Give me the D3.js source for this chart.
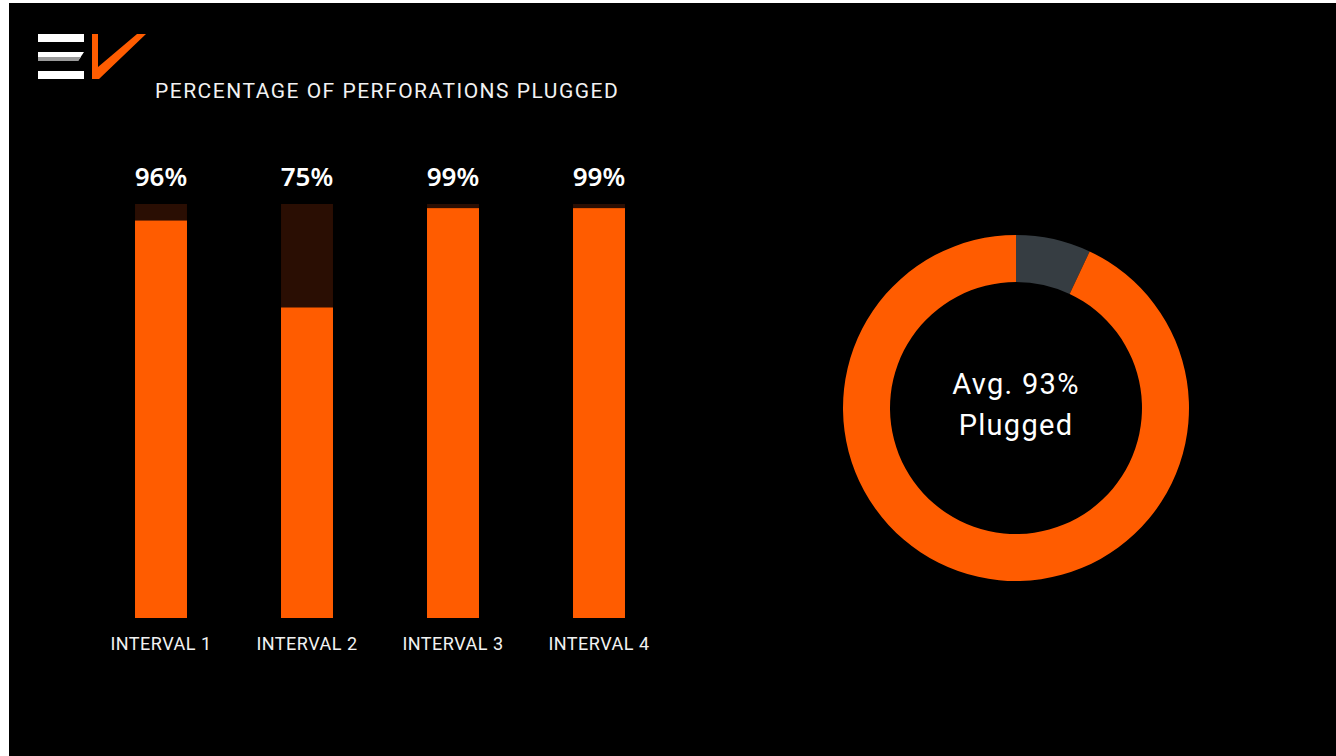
<!DOCTYPE html>
<html>
<head>
<meta charset="utf-8">
<script src="https://cdn.jsdelivr.net/npm/d3@7"></script>
<style>
  html, body { margin: 0; padding: 0; background: #ffffff; }
  svg { display: block; }
</style>
</head>
<body>
<div id="chart"></div>
<script>
// data
const intervals = ['INTERVAL 1', 'INTERVAL 2', 'INTERVAL 3', 'INTERVAL 4']
const plugged = [96, 75, 99, 99]
const avgParts = [93, 7]            // plugged / not plugged
const avgLabel = ['Avg. 93%', 'Plugged']
const title = 'PERCENTAGE OF PERFORATIONS PLUGGED'

const W = 1336, H = 756
const orange = '#ff5c00'
const barBack = '#2a0e03'
const grey = '#363d42'

const svg = d3.select('#chart').append('svg')
    .attr('width', W)
    .attr('height', H)

// black panel
svg.append('rect')
    .attr('x', 9).attr('y', 3)
    .attr('width', W - 9).attr('height', H - 3)
    .attr('fill', '#000')

// logo
let logo = svg.append('g')
logo.append('rect').attr('x', 38).attr('y', 34).attr('width', 46).attr('height', 8).attr('fill', '#fff')
logo.append('path').attr('d', 'M38,52 L84,52 L78,61 L38,61 Z').attr('fill', '#fff')
logo.append('path').attr('d', 'M38,57 L81,57 L78,61 L38,61 Z').attr('fill', '#9a9a9a')
logo.append('rect').attr('x', 38).attr('y', 71).attr('width', 46).attr('height', 8).attr('fill', '#fff')
logo.append('path')
    .attr('d', 'M92,34 L98,34 L98,67 L137,34 L146,34 L99,79 L92,79 Z')
    .attr('fill', orange)

// title
svg.append('text')
    .attr('x', 155)
    .attr('y', 98)
    .attr('font-family', 'Roboto, sans-serif')
    .attr('font-size', 21)
    .attr('letter-spacing', 1.5)
    .attr('fill', '#f2f2f2')
    .text(title)

// bars
const x = d3.scaleBand()
    .domain(intervals)
    .range([88, 672])
    .paddingInner(0.644)
    .paddingOuter(0.322)

const y = d3.scaleLinear()
    .domain([0, 100])
    .range([618, 204])

let bars = svg.append('g')
bars.selectAll('rect.back')
    .data(intervals)
    .enter()
    .append('rect')
    .attr('class', 'back')
    .attr('x', d => x(d))
    .attr('y', y(100))
    .attr('width', x.bandwidth())
    .attr('height', y(0) - y(100))
    .attr('fill', barBack)

bars.selectAll('rect.val')
    .data(plugged)
    .enter()
    .append('rect')
    .attr('class', 'val')
    .attr('x', (d, i) => x(intervals[i]))
    .attr('y', d => y(d))
    .attr('width', x.bandwidth())
    .attr('height', d => y(0) - y(d))
    .attr('fill', orange)

bars.selectAll('text.pct')
    .data(plugged)
    .enter()
    .append('text')
    .attr('class', 'pct')
    .attr('x', (d, i) => x(intervals[i]) + x.bandwidth() / 2)
    .attr('y', 186)
    .attr('text-anchor', 'middle')
    .attr('font-family', '"Noto Sans", sans-serif')
    .attr('font-weight', 600)
    .attr('font-size', 26)
    .attr('fill', '#fff')
    .text(d => d + '%')

bars.selectAll('text.cat')
    .data(intervals)
    .enter()
    .append('text')
    .attr('class', 'cat')
    .attr('x', d => x(d) + x.bandwidth() / 2)
    .attr('y', 650)
    .attr('text-anchor', 'middle')
    .attr('font-family', 'Roboto, sans-serif')
    .attr('font-size', 18)
    .attr('letter-spacing', 0.5)
    .attr('fill', '#f2f2f2')
    .text(d => d)

// donut
const cx = 1016, cy = 408
const pie = d3.pie().sort(null)
const arc = d3.arc().innerRadius(126).outerRadius(173)
// grey slice starts at 12 o'clock, orange takes the rest
const slices = pie(avgParts.slice().reverse())
svg.append('g')
    .attr('transform', `translate(${cx}, ${cy})`)
    .selectAll('path')
    .data(slices)
    .enter()
    .append('path')
    .attr('d', arc)
    .attr('fill', (d, i) => i === 0 ? grey : orange)

svg.append('g')
    .selectAll('text')
    .data(avgLabel)
    .enter()
    .append('text')
    .attr('x', cx)
    .attr('y', (d, i) => 394 + i * 41)
    .attr('text-anchor', 'middle')
    .attr('font-family', 'Roboto, sans-serif')
    .attr('font-size', 29)
    .attr('letter-spacing', 1.3)
    .attr('fill', '#fff')
    .text(d => d)
</script>
</body>
</html>
